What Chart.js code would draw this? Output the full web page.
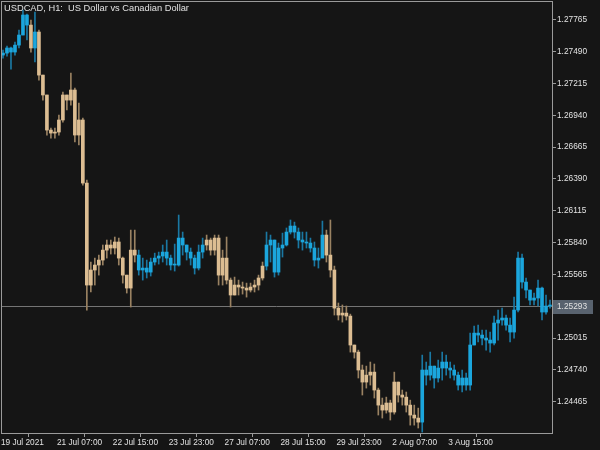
<!DOCTYPE html>
<html>
<head>
<meta charset="utf-8">
<script src="https://cdn.jsdelivr.net/npm/chart.js@4.4.0/dist/chart.umd.min.js"></script>
<style>
  html, body { margin: 0; padding: 0; background: #151515; }
  canvas { display: block; }
</style>
</head>
<body>
<canvas id="grafico" width="600" height="450"></canvas>
<script>
// ===== DATOS =====
const titulo = "USDCAD, H1:  US Dollar vs Canadian Dollar"
const aperturaInicial = 1.27460

const maximos = [
    1.27503, 1.27538, 1.27529, 1.27572, 1.27676, 1.27849, 1.27814, 1.27762, 1.27832, 1.27676,
    1.27287, 1.27115, 1.26829, 1.26829, 1.26942, 1.27140, 1.27115, 1.27305, 1.27175, 1.27045,
    1.26916, 1.26380, 1.25672, 1.25706, 1.25732, 1.25819, 1.25862, 1.25862, 1.25888, 1.25879,
    1.25715, 1.25559, 1.25948, 1.25948, 1.25775, 1.25706, 1.25689, 1.25706, 1.25749, 1.25758,
    1.25819, 1.25862, 1.25732, 1.25827, 1.26078, 1.25931, 1.25819, 1.25793, 1.25732, 1.25819,
    1.25879, 1.25905, 1.25879, 1.25905, 1.25905, 1.25775, 1.25888, 1.25534, 1.25542, 1.25516,
    1.25499, 1.25490, 1.25490, 1.25516, 1.25559, 1.25672, 1.25931, 1.25905, 1.25862, 1.25836,
    1.25922, 1.25966, 1.26035, 1.26017, 1.25966, 1.25931, 1.25931, 1.25879, 1.25845, 1.25793,
    1.26026, 1.25948, 1.26035, 1.25637, 1.25318, 1.25301, 1.25292, 1.25222, 1.24955, 1.24911,
    1.24782, 1.24773, 1.24808, 1.24791, 1.24583, 1.24497, 1.24505, 1.24479, 1.24721, 1.24635,
    1.24566, 1.24549, 1.24479, 1.24436, 1.24410, 1.24868, 1.24808, 1.24894, 1.24773, 1.24825,
    1.24894, 1.24868, 1.24808, 1.24782, 1.24721, 1.24739, 1.24713, 1.25058, 1.25119, 1.25127,
    1.25084, 1.25084, 1.25067, 1.25205, 1.25257, 1.25274, 1.25214, 1.25188, 1.25369, 1.25758,
    1.25741, 1.25534, 1.25430, 1.25404, 1.25516, 1.25456, 1.25387, 1.25343
]

const minimos = [
    1.27434, 1.27451, 1.27339, 1.27460, 1.27521, 1.27633, 1.27590, 1.27486, 1.27400, 1.27244,
    1.27071, 1.26769, 1.26743, 1.26743, 1.26769, 1.26881, 1.26985, 1.27028, 1.26709, 1.26683,
    1.26337, 1.25257, 1.25413, 1.25473, 1.25559, 1.25646, 1.25706, 1.25741, 1.25741, 1.25646,
    1.25490, 1.25404, 1.25283, 1.25672, 1.25559, 1.25516, 1.25534, 1.25551, 1.25646, 1.25654,
    1.25672, 1.25646, 1.25603, 1.25594, 1.25637, 1.25732, 1.25689, 1.25646, 1.25568, 1.25603,
    1.25706, 1.25775, 1.25732, 1.25732, 1.25473, 1.25473, 1.25482, 1.25283, 1.25387, 1.25387,
    1.25395, 1.25369, 1.25413, 1.25413, 1.25430, 1.25516, 1.25603, 1.25672, 1.25542, 1.25559,
    1.25715, 1.25810, 1.25914, 1.25879, 1.25793, 1.25775, 1.25793, 1.25758, 1.25637, 1.25620,
    1.25715, 1.25672, 1.25542, 1.25214, 1.25171, 1.25153, 1.25171, 1.24894, 1.24842, 1.24670,
    1.24523, 1.24583, 1.24609, 1.24497, 1.24350, 1.24324, 1.24367, 1.24307, 1.24358, 1.24462,
    1.24436, 1.24376, 1.24263, 1.24263, 1.24238, 1.24203, 1.24609, 1.24652, 1.24583, 1.24635,
    1.24652, 1.24695, 1.24670, 1.24652, 1.24566, 1.24549, 1.24566, 1.24566, 1.24955, 1.24981,
    1.24955, 1.24911, 1.24894, 1.24955, 1.24998, 1.25127, 1.25084, 1.24981, 1.25015, 1.25240,
    1.25447, 1.25361, 1.25301, 1.25301, 1.25292, 1.25171, 1.25222, 1.25274
]

const cierres = [
    1.27477, 1.27521, 1.27486, 1.27546, 1.27633, 1.27806, 1.27719, 1.27521, 1.27659, 1.27287,
    1.27115, 1.26812, 1.26786, 1.26795, 1.26899, 1.27115, 1.27071, 1.27158, 1.26769, 1.26899,
    1.26354, 1.25473, 1.25603, 1.25646, 1.25689, 1.25775, 1.25819, 1.25793, 1.25845, 1.25706,
    1.25559, 1.25447, 1.25775, 1.25732, 1.25603, 1.25620, 1.25585, 1.25672, 1.25706, 1.25724,
    1.25758, 1.25706, 1.25646, 1.25646, 1.25879, 1.25819, 1.25758, 1.25706, 1.25620, 1.25758,
    1.25819, 1.25862, 1.25775, 1.25879, 1.25559, 1.25706, 1.25516, 1.25387, 1.25473, 1.25456,
    1.25447, 1.25430, 1.25456, 1.25473, 1.25534, 1.25637, 1.25819, 1.25862, 1.25585, 1.25793,
    1.25819, 1.25931, 1.25983, 1.25931, 1.25862, 1.25845, 1.25836, 1.25793, 1.25689, 1.25706,
    1.25905, 1.25732, 1.25603, 1.25274, 1.25214, 1.25231, 1.25205, 1.24955, 1.24894, 1.24739,
    1.24635, 1.24695, 1.24721, 1.24566, 1.24436, 1.24393, 1.24454, 1.24376, 1.24635, 1.24523,
    1.24505, 1.24436, 1.24350, 1.24324, 1.24289, 1.24739, 1.24695, 1.24773, 1.24670, 1.24756,
    1.24808, 1.24756, 1.24739, 1.24695, 1.24609, 1.24670, 1.24609, 1.24955, 1.25058, 1.25041,
    1.25015, 1.24998, 1.24972, 1.25145, 1.25171, 1.25188, 1.25127, 1.25067, 1.25257, 1.25706,
    1.25499, 1.25430, 1.25343, 1.25361, 1.25447, 1.25240, 1.25292, 1.25293
]

// tramos de tendencia: [cantidad de velas, 1 = azul / 0 = beige]
const tramos = [[7, 1], [1, 0], [1, 1], [25, 0], [17, 1], [15, 0], [15, 1], [24, 0], [33, 1]]

const precioActual = 1.25293
const ticksPrecio = [1.27765, 1.27490, 1.27215, 1.26940, 1.26665, 1.26390, 1.26115, 1.25840, 1.25565, 1.25015, 1.24740, 1.24465]
const posFechas = [-0.5, 13.5, 27.5, 41.5, 55.5, 69.5, 83.5, 97.5, 111.5]
const etiquetasFechas = ["19 Jul 2021", "21 Jul 07:00", "22 Jul 15:00", "23 Jul 23:00", "27 Jul 07:00", "28 Jul 15:00", "29 Jul 23:00", "2 Aug 07:00", "3 Aug 15:00"]
const precioMin = 1.24195
const precioMax = 1.27927

// ===== COLORES =====
const fondo = "#151515"
const colorMarco = "#9a9a9a"
const colorTexto = "#e2e2e2"
const fuente = "'Liberation Sans', Arial, sans-serif"
const colores = {
    1: { cuerpo: "#1ba6dd", mecha: "#1a78a3" },
    0: { cuerpo: "#dcbd92", mecha: "#9a8262" }
}

// ===== GRAFICO =====
const tendencia = []
tramos.forEach(t => { for (let k = 0; k < t[0]; k++) tendencia.push(t[1]) })

const aperturas = cierres.map((c, i) => i === 0 ? aperturaInicial : cierres[i - 1])
const cuerpos = cierres.map((c, i) => ({ x: i, y: [aperturas[i], c] }))
const mechas = cierres.map((c, i) => ({ x: i, y: [minimos[i], maximos[i]] }))

const pluginMarco = {
    id: "marco",
    beforeDraw(chart) {
        const ctx = chart.ctx
        ctx.save()
        ctx.fillStyle = fondo
        ctx.fillRect(0, 0, chart.width, chart.height)
        ctx.restore()
    },
    beforeDatasetsDraw(chart) {
        const ctx = chart.ctx
        const ca = chart.chartArea
        const y = Math.round(chart.scales.y.getPixelForValue(precioActual)) + 0.5
        ctx.save()
        ctx.strokeStyle = "#747474"
        ctx.lineWidth = 1
        ctx.beginPath()
        ctx.moveTo(ca.left, y)
        ctx.lineTo(ca.right, y)
        ctx.stroke()
        ctx.restore()
    },
    afterDraw(chart) {
        const ctx = chart.ctx
        const ca = chart.chartArea
        ctx.save()
        ctx.strokeStyle = colorMarco
        ctx.lineWidth = 1
        ctx.strokeRect(ca.left + 0.5, ca.top + 0.5, ca.right - ca.left, ca.bottom - ca.top)

        ctx.fillStyle = colorTexto
        ctx.font = "9.3px " + fuente
        ctx.textBaseline = "middle"
        ctx.textAlign = "left"
        ctx.fillText(titulo, 4, 8)

        const y = Math.round(chart.scales.y.getPixelForValue(precioActual))
        ctx.fillStyle = "#58626e"
        ctx.fillRect(ca.right + 1, y - 6, 40, 14)
        ctx.fillStyle = colorTexto
        ctx.font = "8.3px " + fuente
        ctx.fillText(precioActual.toFixed(5), ca.right + 5, y + 1)
        ctx.restore()
    }
}

new Chart(document.getElementById("grafico").getContext("2d"), {
    type: "bar",
    data: {
        datasets: [{
            label: "Cuerpos",
            data: cuerpos,
            backgroundColor: tendencia.map(t => colores[t].cuerpo),
            barThickness: 3,
            minBarLength: 1,
            grouped: false,
            order: 0
        }, {
            label: "Mechas",
            data: mechas,
            backgroundColor: tendencia.map(t => colores[t].mecha),
            barThickness: 1,
            grouped: false,
            order: 1
        }]
    },
    options: {
        responsive: false,
        animation: false,
        devicePixelRatio: 1,
        layout: { padding: { left: 1, top: 1, right: 0, bottom: 0 } },
        plugins: {
            legend: { display: false },
            tooltip: { enabled: false }
        },
        scales: {
            x: {
                type: "linear",
                min: -0.5,
                max: cierres.length - 0.5,
                offset: false,
                afterBuildTicks: s => { s.ticks = posFechas.map(v => ({ value: v })) },
                afterFit: s => { s.height = 17; s.paddingLeft = 0; s.paddingRight = 0 },
                grid: { drawOnChartArea: false, tickLength: 4, tickColor: colorMarco },
                border: { display: false },
                ticks: {
                    align: "start",
                    autoSkip: false,
                    maxRotation: 0,
                    padding: 1,
                    color: colorTexto,
                    font: { family: fuente, size: 8.3 },
                    callback: (v, i) => etiquetasFechas[i]
                }
            },
            y: {
                position: "right",
                min: precioMin,
                max: precioMax,
                afterBuildTicks: s => { s.ticks = ticksPrecio.map(v => ({ value: v })) },
                afterFit: s => { s.width = 48; s.paddingTop = 0; s.paddingBottom = 0 },
                grid: { drawOnChartArea: false, tickLength: 4, tickColor: colorMarco },
                border: { display: false },
                ticks: {
                    autoSkip: false,
                    padding: 1,
                    color: colorTexto,
                    font: { family: fuente, size: 8.3 },
                    callback: v => Number(v).toFixed(5)
                }
            }
        }
    },
    plugins: [pluginMarco]
})
</script>
</body>
</html>
